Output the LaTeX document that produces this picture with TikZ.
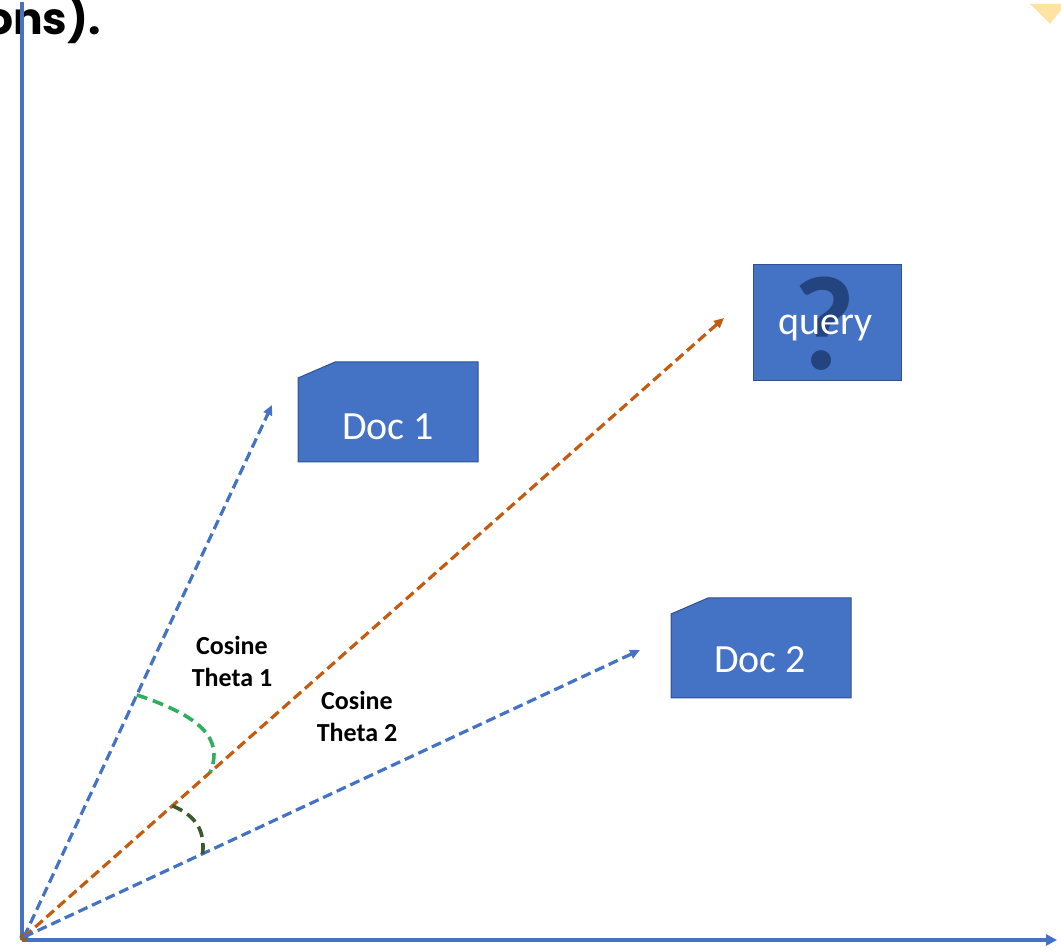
\documentclass[tikz,border=0pt]{standalone}
\usepackage{fontspec}
\setmainfont{Carlito}
\newfontfamily\headfont{Poppins}
\usetikzlibrary{arrows.meta,calc}
\definecolor{vsblue}  {HTML}{4472C4}
\definecolor{vsedge}  {HTML}{2F528F}
\definecolor{vsorange}{HTML}{C55A11}
\definecolor{vsgreen} {HTML}{2DB05E}
\definecolor{vsdark}  {HTML}{3B5A2C}
\definecolor{vsnavy}  {HTML}{24447F}
\definecolor{vsgold}  {HTML}{FFE3A3}
\definecolor{vsdot}   {HTML}{8B5E3C}
\tikzset{
  vsaxis/.style={draw=vsblue, line width=3.5pt},
  vsvec/.style={-{Triangle[length=10pt,width=9pt]}, line width=3.2pt,
                dash pattern=on 10pt off 5pt},
  vsbox/.style={fill=vsblue, draw=vsedge, line width=1pt},
  vslabel/.style={text=white, font=\fontsize{40}{44}\selectfont},
  vsangle/.style={line width=3.6pt, dash pattern=on 11pt off 6pt},
  vsnote/.style={font=\bfseries\fontsize{26}{32}\selectfont, align=center},
}
\begin{document}
\begin{tikzpicture}[x=1pt,y=1pt]
  \useasboundingbox (0,0) rectangle (1061,950);
  % cut-off heading and corner mark
  \node[font=\headfont\bfseries\fontsize{44}{48}\selectfont, anchor=base east,
        inner sep=0pt] (head) at (101,915) {ons).};
  \fill[vsgold] (1030,946) -- (1066,946) -- (1050,926) -- cycle;

  % axes
  \coordinate (corner) at (22,10);
  \coordinate (ytop)   at (22,948);
  \coordinate (xend)   at (1057,10);
  \draw[vsaxis] (ytop) -- (corner);
  \draw[vsaxis, -{Triangle[length=11pt,width=11pt]}] (corner) -- (xend);

  % vectors
  \node[circle, fill=vsdot, inner sep=0pt, minimum size=9pt] (O) at (24,13) {};
  \coordinate (d1tip) at (272,545);
  \coordinate (qtip)  at (724,632);
  \coordinate (d2tip) at (640,300);
  \draw[vsvec, vsblue]   (O.center) -- (d1tip);
  \draw[vsvec, vsorange] (O.center) -- (qtip);
  \draw[vsvec, vsblue]   (O.center) -- (d2tip);

  % angle marks
  \coordinate (a1) at ($(O.center)!0.455!(d1tip)$);
  \coordinate (a2) at ($(O.center)!0.266!(qtip)$);
  \coordinate (b1) at ($(O.center)!0.212!(qtip)$);
  \coordinate (b2) at ($(O.center)!0.29!(d2tip)$);
  \draw[vsangle, vsgreen] (a1) .. controls (200,234) and (224,212) .. (a2);
  \draw[vsangle, vsdark]  (b1) .. controls (196,134) and (205,120) .. (b2);
  \node[vsnote] (cos1) at (232,289) {Cosine\\Theta 1};
  \node[vsnote] (cos2) at (357,234) {Cosine\\Theta 2};

  % documents and query
  \filldraw[vsbox] (298,488) -- (478,488) -- (478,588) -- (335,588)
                   -- (298,572) -- cycle;
  \node[vslabel, anchor=base] (doc1) at (388,510) {Doc 1};
  \filldraw[vsbox] (671,252) -- (851,252) -- (851,352) -- (708,352)
                   -- (671,336) -- cycle;
  \node[vslabel, anchor=base] (doc2) at (760,277) {Doc 2};
  \filldraw[vsbox] (753,569) rectangle (901,685);
  \node[text=vsnavy, font=\bfseries\fontsize{134}{134}\selectfont,
        inner sep=0pt] (mark) at (825,626) {?};
  \node[vslabel, anchor=base] (query) at (826,615) {query};
\end{tikzpicture}
\end{document}
